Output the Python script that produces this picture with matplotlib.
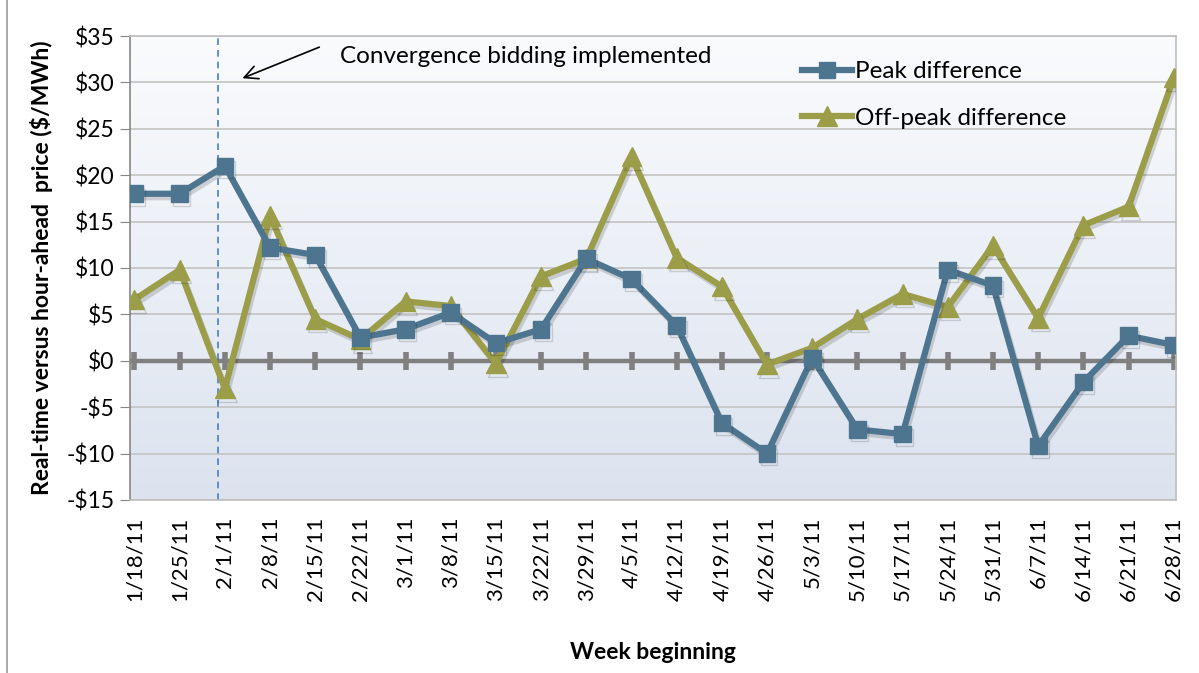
import numpy as np
import matplotlib
matplotlib.use("Agg")
import matplotlib.pyplot as plt
import matplotlib.patheffects as pe
from matplotlib.ticker import FuncFormatter

weeks = ["1/18/11", "1/25/11", "2/1/11", "2/8/11", "2/15/11", "2/22/11",
         "3/1/11", "3/8/11", "3/15/11", "3/22/11", "3/29/11", "4/5/11",
         "4/12/11", "4/19/11", "4/26/11", "5/3/11", "5/10/11", "5/17/11",
         "5/24/11", "5/31/11", "6/7/11", "6/14/11", "6/21/11", "6/28/11"]
peak = [18.0, 18.0, 21.0, 12.2, 11.4, 2.5, 3.4, 5.2, 1.9, 3.4, 11.0, 8.8,
        3.8, -6.7, -10.0, 0.3, -7.4, -7.9, 9.8, 8.1, -9.2, -2.3, 2.7, 1.7]
offpeak = [6.6, 9.8, -3.0, 15.6, 4.5, 2.3, 6.4, 5.9, -0.3, 9.1, 11.0, 22.0,
           11.1, 8.0, -0.4, 1.4, 4.5, 7.2, 5.8, 12.4, 4.6, 14.6, 16.6, 30.5]
event_pos = 1.85  # convergence bidding line, just before 2/1/11

plt.rcParams['font.family'] = ['Lato', 'DejaVu Sans']

peak_col = '#4E7590'
off_col = '#9C9D48'

fig = plt.figure(figsize=(11.99, 6.73), dpi=100)
ax = fig.add_axes([0.1084, 0.2571, 0.8724, 0.6894])

x = np.arange(len(weeks))
ax.set_xlim(-0.1, len(weeks) - 0.95)
ax.set_ylim(-15, 35)

# gradient plot-area fill
grad = np.linspace(0, 1, 256).reshape(-1, 1)
cmap = matplotlib.colors.LinearSegmentedColormap.from_list('bg', ['#DCE3EF', '#FAFBFD'])
ax.imshow(grad, aspect='auto', cmap=cmap, origin='lower',
          extent=[0, 1, 0, 1], transform=ax.transAxes, zorder=0)

ax.set_yticks(np.arange(-15, 36, 5))
ax.yaxis.set_major_formatter(FuncFormatter(lambda v, p: ('-$%d' % -v) if v < 0 else '$%d' % v))
ax.grid(axis='y', color='#C3C3C3', lw=1.2, zorder=1)
ax.set_axisbelow(True)

# zero axis with category ticks
ax.axhline(0, color='#808080', lw=3.2, zorder=2)
ax.plot(x, np.zeros(len(x)), ls='none', marker='|', ms=13, mew=4, color='#808080', zorder=2)

ax.axvline(event_pos, color='#4A7EC2', lw=1.2, ls=(0, (4, 3)), zorder=2)

shadow = [pe.SimpleLineShadow(offset=(1.5, -2.5), alpha=0.15, shadow_color='black'), pe.Normal()]
ax.plot(x, peak, color=peak_col, lw=4.5, marker='s', ms=12, zorder=4,
        label='Peak difference', path_effects=shadow)
ax.plot(x, offpeak, color=off_col, lw=4.5, marker='^', ms=14, zorder=3,
        label='Off-peak difference', path_effects=shadow)

ax.set_xticks(x)
ax.set_xticklabels(weeks, rotation=90, fontsize=16)
ax.tick_params(axis='x', length=0, pad=12)
ax.tick_params(axis='y', labelsize=16.5, length=7, color='#868686', direction='out', pad=4)

for s in ['top', 'right', 'bottom']:
    ax.spines[s].set_color('#BFBFBF')
    ax.spines[s].set_linewidth(1.2)
ax.spines['left'].set_color('#868686')
ax.spines['left'].set_linewidth(1.2)

ax.set_ylabel('Real-time versus hour-ahead  price ($/MWh)', fontsize=16.5,
              fontweight='bold', labelpad=10)
ax.set_xlabel('Week beginning', fontsize=16.5, fontweight='bold', labelpad=29)

ax.text(4.55, 32.8, 'Convergence bidding implemented', fontsize=17.5, va='center', ha='left')
ax.annotate('', xy=(2.39, 30.45), xytext=(4.09, 33.8),
            arrowprops=dict(arrowstyle='->', color='black', lw=1.2,
                            shrinkA=0, shrinkB=0, mutation_scale=24))

leg = ax.legend(loc='upper left', bbox_to_anchor=(0.622, 0.993), frameon=False,
                fontsize=17.5, handlelength=2.05, handletextpad=0.1, labelspacing=1.05)
for h in leg.legend_handles:
    h.set_path_effects([])

fig.add_artist(plt.Line2D([0.006, 0.006], [0, 1], color='#9A9A9A', lw=1.2))

fig.savefig('out.png', dpi=100)
